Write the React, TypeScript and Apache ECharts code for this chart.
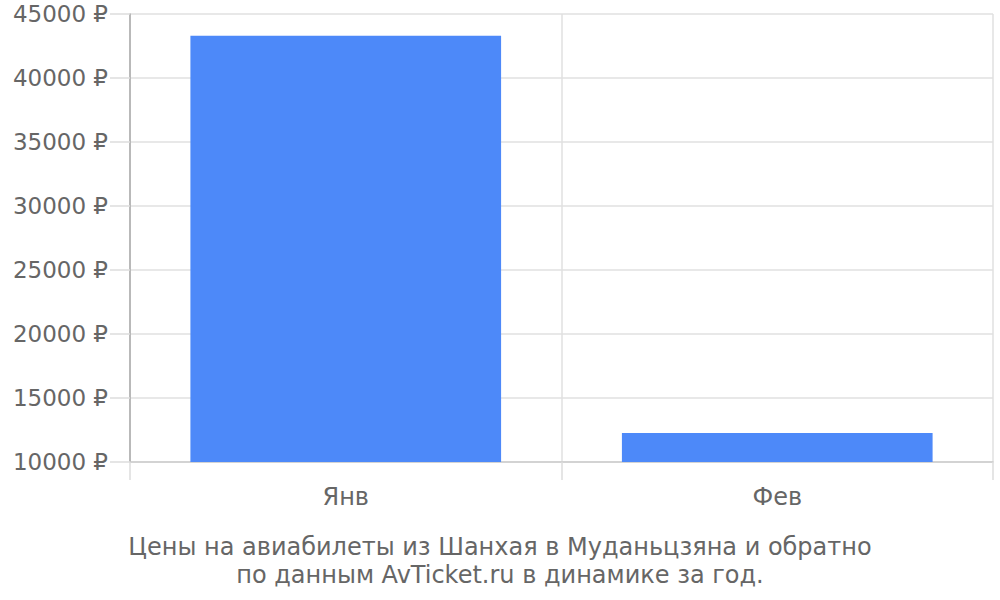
import { useEffect, useRef } from "react";
import * as echarts from "echarts";

const months = ["Янв", "Фев"];
const prices = [43300, 12270];
const titleLines = [
  "Цены на авиабилеты из Шанхая в Муданьцзяна и обратно",
  "по данным AvTicket.ru в динамике за год.",
];

export default function App() {
  const containerRef = useRef<HTMLDivElement>(null);

  useEffect(() => {
    if (!containerRef.current) return;
    const chart = echarts.init(containerRef.current, null, { renderer: "svg" });
    const font = "'DejaVu Sans', sans-serif";

    chart.setOption({
      backgroundColor: "#ffffff",
      animation: false,
      textStyle: { fontFamily: font },
      graphic: titleLines.map((line, i) => ({
        type: "text",
        x: 500,
        y: 547 + i * 28,
        style: {
          text: line,
          align: "center",
          verticalAlign: "middle",
          fill: "#666",
          fontSize: 24,
          fontFamily: font,
        },
      })),
      grid: { top: 14, bottom: 138, left: 130, right: 7 },
      xAxis: {
        type: "category",
        data: months,
        boundaryGap: true,
        axisLine: { lineStyle: { color: "#ccc", width: 1.5 } },
        axisTick: { show: true, length: 18, lineStyle: { color: "#ddd", width: 1.5 } },
        axisLabel: { color: "#666", fontSize: 24, margin: 23, fontFamily: font },
        splitLine: { show: true, lineStyle: { color: "#e0e0e0", width: 1.5 } },
      },
      yAxis: {
        type: "value",
        min: 10000,
        max: 45000,
        interval: 5000,
        axisLine: { show: true, lineStyle: { color: "#aaa", width: 1.5 } },
        axisTick: { show: true, length: 20, lineStyle: { color: "#ddd", width: 1.5 } },
        axisLabel: {
          color: "#666",
          fontSize: 23,
          margin: 22,
          fontFamily: font,
          formatter: (v: number) => `${v} ₽`,
        },
        splitLine: { lineStyle: { color: "#e0e0e0", width: 1.5 } },
      },
      series: [
        {
          type: "bar",
          data: prices,
          barWidth: "72%",
          itemStyle: { color: "#4d89f9" },
        },
      ],
    });

    return () => chart.dispose();
  }, []);

  return (
    <div
      ref={containerRef}
      style={{ position: "absolute", left: 0, top: 0, width: 1000, height: 600 }}
    />
  );
}
